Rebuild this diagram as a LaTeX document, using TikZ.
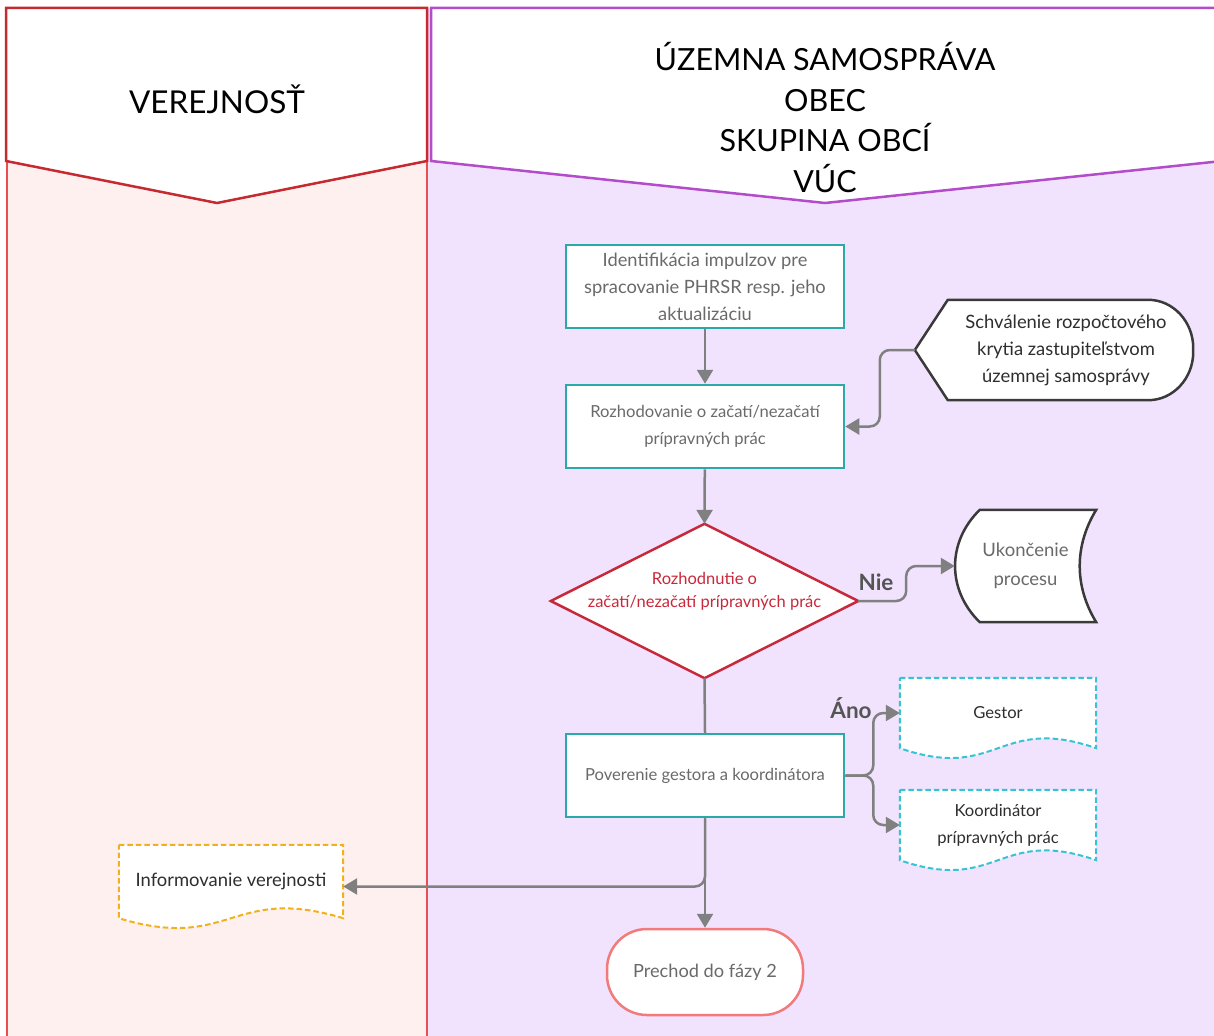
\documentclass[tikz,border=0pt]{standalone}
\usepackage{fontspec}
\setmainfont{Lato}
\usetikzlibrary{arrows.meta,calc}

\pgfdeclarelayer{lanes}
\pgfdeclarelayer{outlines}
\pgfsetlayers{lanes,outlines,main}

\definecolor{pinkfill}{HTML}{FFF0F0}
\definecolor{lanered}{HTML}{E8504F}
\definecolor{headred}{HTML}{C52A30}
\definecolor{lavender}{HTML}{F1E3FD}
\definecolor{laneviolet}{HTML}{B24CCB}
\definecolor{procteal}{HTML}{2BA8A8}
\definecolor{decred}{HTML}{C9283A}
\definecolor{dashteal}{HTML}{36C3D3}
\definecolor{dashorange}{HTML}{F2B01E}
\definecolor{termred}{HTML}{F27A7A}
\definecolor{flowgray}{HTML}{808080}
\definecolor{darkline}{HTML}{3A3A3A}
\definecolor{boxgray}{HTML}{6A6A6A}
\definecolor{darktext}{HTML}{2E2E2E}
\definecolor{labelgray}{HTML}{555555}

\tikzset{
  headtxt/.style={align=center, inner sep=0pt, text=black, font=\fontsize{30.5}{40.5}\selectfont},
  procbox/.style={draw=procteal, line width=2.5pt, fill=white, minimum width=278pt,
    minimum height=83pt, align=center, inner sep=0pt, text=boxgray,
    font=\fontsize{16.6}{27}\selectfont},
  frame/.style={draw=none, inner sep=0pt, align=center},
  conn/.style={draw=flowgray, line width=2.5pt, rounded corners=10pt,
    -{Triangle[length=14pt,width=16pt]}},
  plainconn/.style={draw=flowgray, line width=2.5pt},
  decline/.style={draw=decred, line width=2.5pt, fill=white, line join=miter},
  displine/.style={draw=darkline, line width=2.5pt, fill=white, line join=round},
  tealdoc/.style={draw=dashteal, line width=2pt, fill=white, dash pattern=on 5.5pt off 3pt},
  orangedoc/.style={draw=dashorange, line width=2pt, fill=white, dash pattern=on 5.5pt off 3pt},
  branchlab/.style={inner sep=0pt, text=labelgray, font=\fontsize{22.5}{26}\selectfont\bfseries},
}

% document symbol with a wavy lower edge, drawn round a named node
\newcommand\docoutline[2]{%
  \draw[#1] (#2.north west) -- (#2.north east) -- (#2.south east)
    .. controls ($(#2.south east)!0.5!(#2.south west)+(0,-34)$)
            and ($(#2.south east)!0.5!(#2.south west)+(0,34)$) .. (#2.south west) -- cycle;}

\begin{document}
\begin{tikzpicture}[x=1pt,y=-1pt]
\useasboundingbox (0,0) rectangle (1214,1035);
\clip (0,0) rectangle (1214,1035);

% swimlanes
\begin{pgfonlayer}{lanes}
  \fill[lavender] (427,8) rectangle (1222,1040);
  \draw[fill=pinkfill, draw=lanered, line width=2pt] (7,8) rectangle (427,1040);
  \draw[fill=white, draw=headred, line width=2.5pt, line join=miter]
    (6,8) -- (427,8) -- (427,161) -- (217,203) -- (6,161) -- cycle;
  \draw[fill=white, draw=laneviolet, line width=2.5pt, line join=miter]
    (431,8) -- (1222,8) -- (1222,161) -- (825,203) -- (431,161) -- cycle;
\end{pgfonlayer}

\node[headtxt, font=\fontsize{31.5}{40}\selectfont] (hpub) at (217,99) {VEREJNOSŤ};
\node[headtxt] (hgov) at (825,117.5) {ÚZEMNA SAMOSPRÁVA\\OBEC\\SKUPINA OBCÍ\\VÚC};

% process steps
\node[procbox, font=\fontsize{18.3}{27}\selectfont] (ident) at (705,286.5)
  {Identifikácia impulzov pre\\spracovanie PHRSR resp. jeho\\aktualizáciu};
\node[procbox] (rozh) at (705,426.5) {Rozhodovanie o začatí/nezačatí\\prípravných prác};
\node[frame, minimum width=307pt, minimum height=154pt, text=decred,
  font=\fontsize{16.5}{23}\selectfont] (dec) at (704.5,601)
  {Rozhodnutie o\\začatí/nezačatí prípravných prác\\\mbox{}};
\node[frame, minimum width=254pt, minimum height=100pt, text=darktext,
  font=\fontsize{18.4}{27}\selectfont] (schval) at (1066,350)
  {Schválenie rozpočtového\\krytia zastupiteľstvom\\územnej samosprávy};
\node[frame, minimum width=141pt, minimum height=112pt, text=boxgray,
  font=\fontsize{18.5}{29}\selectfont] (ukon) at (1025.5,566) {Ukončenie\\procesu};
\node[procbox] (pover) at (705,775.5) {Poverenie gestora a koordinátora};
\node[frame, minimum width=196pt, minimum height=70pt, text=darktext,
  font=\fontsize{16.6}{27}\selectfont] (gestor) at (998,713) {Gestor};
\node[frame, minimum width=196pt, minimum height=70pt, text=darktext,
  font=\fontsize{16.6}{27}\selectfont] (koord) at (998,825) {Koordinátor\\prípravných prác};
\node[frame, minimum width=224pt, minimum height=73pt, text=darktext,
  font=\fontsize{18.4}{27}\selectfont] (info) at (231,881.5) {Informovanie verejnosti};
\node[draw=termred, line width=2.5pt, fill=white, rounded corners=40pt,
  minimum width=196pt, minimum height=86pt, inner sep=0pt, text=boxgray,
  font=\fontsize{18.2}{27}\selectfont] (prechod) at (705,972) {Prechod do fázy 2};

% outlines of the special symbols
\begin{pgfonlayer}{outlines}
  \draw[decline] (dec.north) -- (dec.east) -- (dec.south) -- (dec.west) -- cycle;
  \draw[displine] ($(schval.west)+(-24,0)$) -- ($(schval.north west)+(9,0)$)
    -- ($(schval.north east)+(-45,0)$)
    .. controls ($(schval.north east)+(-20,0)$) and ($(schval.north east)+(0,22)$)
    .. ($(schval.north east)+(0,48)$) -- ($(schval.south east)+(0,-48)$)
    .. controls ($(schval.south east)+(0,-22)$) and ($(schval.south east)+(-20,0)$)
    .. ($(schval.south east)+(-45,0)$) -- ($(schval.south west)+(9,0)$) -- cycle;
  \draw[displine, line join=miter] ($(ukon.north west)+(25,0)$) -- (ukon.north east)
    .. controls ($(ukon.north east)+(-22,36)$) and ($(ukon.south east)+(-22,-36)$)
    .. (ukon.south east) -- ($(ukon.south west)+(25,0)$)
    .. controls ($(ukon.south west)+(-8,-32)$) and ($(ukon.north west)+(-8,32)$)
    .. cycle;
  \docoutline{tealdoc}{gestor}
  \docoutline{tealdoc}{koord}
  \docoutline{orangedoc}{info}
\end{pgfonlayer}

% flow
\draw[conn] (ident) -- (rozh);
\draw[conn] ($(schval.west)+(-24,0)$) -- ++(-35,0) |- (rozh.east);
\draw[conn] (rozh) -- (dec.north);
\draw[conn] (dec.east) -- ++(48,0) |- (ukon.west);
\node[branchlab] (nie) at (876,582) {Nie};
\draw[plainconn] (dec.south) -- (pover.north);
\draw[conn] (pover.east) -- ++(28,0) |- (gestor.west);
\draw[conn] (pover.east) -- ++(28,0) |- (koord.west);
\node[branchlab] (ano) at (851,708) {Áno};
\draw[conn] (pover.south) |- ([yshift=-5pt]info.east);
\draw[conn] (pover.south) -- (prechod.north);
\end{tikzpicture}
\end{document}
